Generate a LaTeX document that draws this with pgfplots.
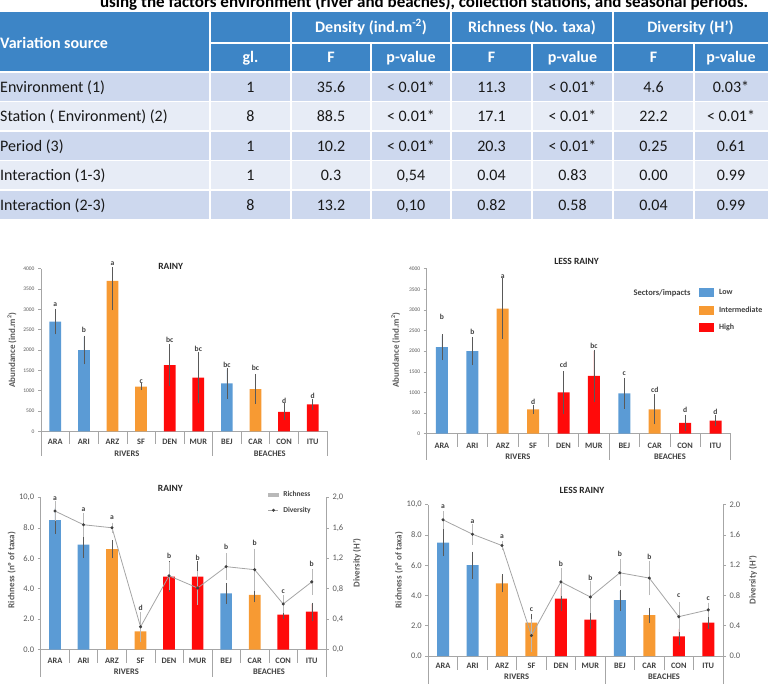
\documentclass[border=0pt]{standalone}
\usepackage{fontspec}
\setmainfont{Carlito}
\usepackage{pgfplots}
\usepackage{pgfplotstable}
\pgfplotsset{compat=1.18}
\usetikzlibrary{calc}

\definecolor{hdr}{HTML}{3D85C6}
\definecolor{rowA}{HTML}{CDD8EE}
\definecolor{rowB}{HTML}{E7ECF6}
\definecolor{cblue}{HTML}{5B9BD5}
\definecolor{corange}{HTML}{F79A33}
\definecolor{cred}{HTML}{FF0A0A}
\definecolor{axgray}{HTML}{A6A6A6}
\definecolor{tickc}{HTML}{595959}
\definecolor{catc}{HTML}{404040}
\definecolor{errc}{HTML}{595959}
\definecolor{linec}{HTML}{A5A5A5}

% ---------- top-left: rainy abundance
\pgfplotstableread{
x y ep em
0 2700 280 280
1 2000 320 320
6 1180 340 340
}\TLlow
\pgfplotstableread{
x y ep em
2 3700 300 690
3 1100 55 55
7 1040 330 330
}\TLmid
\pgfplotstableread{
x y ep em
4 1630 480 480
5 1320 600 600
8 480 170 170
9 660 100 100
}\TLhigh
\pgfplotstableread{
x y l
0 3115 a
1 2500 b
2 4123 a
3 1230 c
4 2254 bc
5 2033 bc
6 1639 bc
7 1557 bc
8 738 d
9 877 d
}\TLlet
% ---------- top-right: less rainy abundance
\pgfplotstableread{
x y ep em
0 2100 280 280
1 2000 310 310
6 980 340 340
}\TRlow
\pgfplotstableread{
x y ep em
2 3030 700 700
3 590 70 70
7 590 330 330
}\TRmid
\pgfplotstableread{
x y ep em
4 1000 480 480
5 1400 600 600
8 260 160 160
9 320 100 100
}\TRhigh
\pgfplotstableread{
x y l
0 2836 b
1 2465 b
2 3800 a
3 768 d
4 1657 cd
5 2141 bc
6 1446 c
7 1059 cd
8 566 d
9 525 d
}\TRlet
% ---------- bottom-left: rainy richness / diversity
\pgfplotstableread{
x y ep em
0 8.5 0.8 0.8
1 6.9 0.8 0.8
6 3.7 0.6 0.6
}\BLlow
\pgfplotstableread{
x y ep em
2 6.6 0.5 0.5
3 1.2 0.6 0.6
7 3.6 0.4 0.4
}\BLmid
\pgfplotstableread{
x y ep em
4 4.8 0.9 0.9
5 4.8 0.9 0.9
8 2.3 0.2 0.2
9 2.5 0.5 0.5
}\BLhigh
\pgfplotstableread{
x y e
0 1.82 0.12
1 1.64 0.14
2 1.60 0.05
3 0.30 0.18
4 0.97 0.17
5 0.81 0.20
6 1.09 0.16
7 1.05 0.26
8 0.60 0.10
9 0.89 0.15
}\BLdiv
\pgfplotstableread{
x y l
0 9.93 a
1 9.2 a
2 8.67 a
3 2.76 d
4 6.17 b
5 6.02 b
6 6.74 b
7 6.98 b
8 3.8 c
9 5.62 b
}\BLlet
% ---------- bottom-right: less rainy richness / diversity
\pgfplotstableread{
x y ep em
0 7.5 0.8 0.8
1 6.0 0.8 0.8
6 3.7 0.6 0.6
}\BRlow
\pgfplotstableread{
x y ep em
2 4.8 0.5 0.5
3 2.2 0.5 0.5
7 2.7 0.4 0.4
}\BRmid
\pgfplotstableread{
x y ep em
4 3.8 0.7 0.7
5 2.4 0.5 0.5
8 1.3 0.5 0.5
9 2.2 0.3 0.3
}\BRhigh
\pgfplotstableread{
x y e
0 1.80 0.10
1 1.61 0.12
2 1.46 0.04
3 0.27 0.20
4 0.98 0.17
5 0.78 0.20
6 1.10 0.16
7 1.03 0.21
8 0.52 0.18
9 0.61 0.08
}\BRdiv
\pgfplotstableread{
x y l
0 9.85 a
1 8.9 a
2 7.9 a
3 3.06 c
4 6.06 b
5 5.18 b
6 6.72 b
7 6.54 b
8 4.0 c
9 3.79 c
}\BRlet

\tikzset{
 tb/.style={font=\fontsize{16}{18}\selectfont, anchor=base, inner sep=0pt, text=black!90},
 th/.style={font=\bfseries\fontsize{16}{18}\selectfont, anchor=base, inner sep=0pt, text=white},
 grp/.style={font=\bfseries\fontsize{8.5}{9}\selectfont, text=catc, anchor=center, inner sep=0pt},
 ttl/.style={font=\bfseries\fontsize{9.5}{10}\selectfont, text=black!85, anchor=center, inner sep=0pt},
 ylab/.style={font=\bfseries\fontsize{9}{10}\selectfont, text=tickc, anchor=center, rotate=90, inner sep=0pt},
 sep/.style={draw=axgray, line width=0.6pt},
}

\newcommand\trow[9]{%
 \node[tb,anchor=base west] at (0,#1) {#2};
 \node[tb] at (250.5,#1) {#3};
 \node[tb] at (331,#1) {#4};
 \node[tb] at (411,#1) {#5};
 \node[tb] at (491.5,#1) {#6};
 \node[tb] at (572.5,#1) {#7};
 \node[tb] at (653.5,#1) {#8};
 \node[tb] at (731,#1) {#9};
}

\pgfplotsset{
 chart/.style={
  scale only axis, anchor=south west, clip=false,
  xmin=-0.5, xmax=9.5, ymin=0,
  axis x line*=bottom, axis y line*=left,
  axis line style={draw=axgray, line width=0.6pt, -},
  xtick={0,...,9},
  xticklabels={ARA,ARI,ARZ,SF,DEN,MUR,BEJ,CAR,CON,ITU},
  xtick style={draw=none},
  xticklabel style={font=\bfseries\fontsize{8.3}{9}\selectfont, text=catc, anchor=center},
  tick align=outside, major tick length=3pt,
  ytick style={draw=axgray, line width=0.5pt},
  yticklabel style={text=tickc},
 },
 eb/.style={error bars/y dir=both, error bars/y explicit,
  error bars/error bar style={draw=errc, line width=0.45pt},
  error bars/error mark options={draw=errc, line width=0.45pt, mark size=1.4pt}},
 bars/.style={ybar, bar shift=0pt, draw=none},
 let/.style={forget plot, draw=none, mark=none, nodes near coords, point meta=explicit symbolic,
  nodes near coords style={font=\bfseries\fontsize{7.6}{8}\selectfont, text=catc, anchor=center, inner sep=0pt}},
 divline/.style={linec, line width=0.8pt, mark=*, mark size=1.1pt,
  mark options={fill=black!75, draw=black!75, solid},
  error bars/y dir=both, error bars/y explicit,
  error bars/error bar style={draw=gray!55, line width=0.4pt},
  error bars/error mark options={draw=gray!55, line width=0.4pt, mark size=1.3pt}},
 rightax/.style={scale only axis, anchor=south west, clip=false,
  xmin=-0.5, xmax=9.5, ymin=0, ymax=2,
  axis x line=none, axis y line*=right,
  axis line style={draw=axgray, line width=0.6pt, -},
  tick align=outside, major tick length=3pt,
  ytick style={draw=axgray, line width=0.5pt},
  ytick={0,0.4,0.8,1.2,1.6,2},
  yticklabel style={font=\fontsize{8.5}{9}\selectfont, text=tickc}},
}

\begin{document}
\begin{tikzpicture}
% ================= TABLE =================
\begin{scope}[x=1pt,y=-1pt]
 \node[font=\bfseries\fontsize{17}{19}\selectfont, anchor=base, inner sep=0pt] at (424,8) {using the factors environment (river and beaches), collection stations, and seasonal periods.};
 \fill[hdr] (0,12) rectangle (768,72);
 \fill[rowA] (0,72) rectangle (768,101.5);
 \fill[rowB] (0,101.5) rectangle (768,131);
 \fill[rowA] (0,131) rectangle (768,160.5);
 \fill[rowB] (0,160.5) rectangle (768,190);
 \fill[rowA] (0,190) rectangle (768,219.5);
 \draw[white, line width=1.5pt] (210,43) -- (768,43);
 \foreach \y in {72,101.5,131,160.5,190} \draw[white, line width=1.5pt] (0,\y) -- (768,\y);
 \foreach \x in {210,291,451,613} \draw[white, line width=1.5pt] (\x,12) -- (\x,43);
 \foreach \x in {210,291,371,451,532,613,694} \draw[white, line width=1.5pt] (\x,43) -- (\x,219.5);
 \node[th,anchor=base west] at (0,48.5) {Variation source};
 \node[th] at (371,33) {Density (ind.m\textsuperscript{-2})};
 \node[th] at (532,33) {Richness (No. taxa)};
 \node[th] at (690.5,33) {Diversity (H’)};
 \node[th] at (250.5,63) {gl.};
 \node[th] at (331,63) {F};
 \node[th] at (411,63) {p-value};
 \node[th] at (491.5,63) {F};
 \node[th] at (572.5,63) {p-value};
 \node[th] at (653.5,63) {F};
 \node[th] at (731,63) {p-value};
 \trow{92.25}{Environment (1)}{1}{35.6}{< 0.01*}{11.3}{< 0.01*}{4.6}{0.03*}
 \trow{121.75}{Station ( Environment) (2)}{8}{88.5}{< 0.01*}{17.1}{< 0.01*}{22.2}{< 0.01*}
 \trow{151.25}{Period (3)}{1}{10.2}{< 0.01*}{20.3}{< 0.01*}{0.25}{0.61}
 \trow{180.75}{Interaction (1-3)}{1}{0.3}{0,54}{0.04}{0.83}{0.00}{0.99}
 \trow{210.25}{Interaction (2-3)}{8}{13.2}{0,10}{0.82}{0.58}{0.04}{0.99}
\end{scope}

% ================= TOP LEFT =================
\begin{axis}[chart, at={(41pt,-431.3pt)}, width=286pt, height=162.6pt, ymax=4000,
  ytick={0,500,1000,1500,2000,2500,3000,3500,4000},
  yticklabels={0,500,1000,1500,2000,2500,3000,3500,4000},
  yticklabel style={font=\fontsize{5.5}{6}\selectfont},
  xticklabel style={yshift=-7.7pt}]
 \addplot[bars, bar width=11.7pt, fill=cblue, eb] table[x=x,y=y,y error plus=ep,y error minus=em]{\TLlow};
 \addplot[bars, bar width=11.7pt, fill=corange, eb] table[x=x,y=y,y error plus=ep,y error minus=em]{\TLmid};
 \addplot[bars, bar width=11.7pt, fill=cred, eb] table[x=x,y=y,y error plus=ep,y error minus=em]{\TLhigh};
 \addplot[let] table[x=x,y=y,meta=l]{\TLlet};
 \pgfplotsinvokeforeach{0.5,1.5,2.5,3.5,4.5,6.5,7.5,8.5}{\draw[sep] (axis cs:#1,0) -- ++(0pt,-12.7pt);}
 \pgfplotsinvokeforeach{-0.5,5.5,9.5}{\draw[sep] (axis cs:#1,0) -- ++(0pt,-24.7pt);}
 \node[grp] at ($(axis cs:2.5,0)+(0pt,-22.7pt)$) {RIVERS};
 \node[grp] at ($(axis cs:7.5,0)+(0pt,-22.7pt)$) {BEACHES};
 \node[ttl] at (rel axis cs:0.4535,1.0148) {RAINY};
 \node[ylab] at (rel axis cs:-0.1014,0.5) {Abundance (ind.m\textsuperscript{2})};
\end{axis}

% ================= TOP RIGHT =================
\begin{axis}[chart, at={(426.7pt,-433.7pt)}, width=304pt, height=165pt, ymax=4000,
  ytick={0,500,1000,1500,2000,2500,3000,3500,4000},
  yticklabels={0,500,1000,1500,2000,2500,3000,3500,4000},
  yticklabel style={font=\fontsize{5.5}{6}\selectfont},
  xticklabel style={yshift=-9pt},
  legend style={at={(0.8957,0.8818)}, anchor=north west, draw=none, fill=none,
    inner sep=0pt, outer sep=0pt, font=\bfseries\fontsize{8}{9}\selectfont, text=catc,
    row sep=8.3pt, column sep=5pt, nodes={inner sep=0pt, text height=6pt, text depth=1.5pt}},
  legend cell align=left,
  legend image code/.code={\draw[#1,draw=none] (0pt,-4.5pt) rectangle (15pt,4.5pt);}]
 \addplot[bars, bar width=12pt, fill=cblue, eb] table[x=x,y=y,y error plus=ep,y error minus=em]{\TRlow};
 \addlegendentry{Low}
 \addplot[bars, bar width=12pt, fill=corange, eb] table[x=x,y=y,y error plus=ep,y error minus=em]{\TRmid};
 \addlegendentry{Intermediate}
 \addplot[bars, bar width=12pt, fill=cred, eb] table[x=x,y=y,y error plus=ep,y error minus=em]{\TRhigh};
 \addlegendentry{High}
 \addplot[let] table[x=x,y=y,meta=l]{\TRlet};
 \pgfplotsinvokeforeach{0.5,1.5,2.5,3.5,4.5,6.5,7.5,8.5}{\draw[sep] (axis cs:#1,0) -- ++(0pt,-13.3pt);}
 \pgfplotsinvokeforeach{-0.5,5.5,9.5}{\draw[sep] (axis cs:#1,0) -- ++(0pt,-26.3pt);}
 \node[grp] at ($(axis cs:2.5,0)+(0pt,-23pt)$) {RIVERS};
 \node[grp] at ($(axis cs:7.5,0)+(0pt,-23pt)$) {BEACHES};
 \node[ttl] at (rel axis cs:0.493,1.0467) {LESS RAINY};
 \node[ylab] at (rel axis cs:-0.102,0.507) {Abundance (ind.m\textsuperscript{2})};
 \node[font=\bfseries\fontsize{8.5}{9}\selectfont, text=catc, anchor=center] at (rel axis cs:0.774,0.8545) {Sectors/impacts};
\end{axis}

% ================= BOTTOM LEFT =================
\begin{axis}[chart, at={(40.7pt,-649.7pt)}, width=285.3pt, height=152.4pt, ymax=10,
  ytick={0,2,4,6,8,10},
  yticklabels={{0.0},{2.0},{4.0},{6.0},{8.0},{10,0}},
  yticklabel style={font=\fontsize{8.5}{9}\selectfont},
  xticklabel style={yshift=-8.3pt}]
 \addplot[bars, bar width=11.7pt, fill=cblue, eb] table[x=x,y=y,y error plus=ep,y error minus=em]{\BLlow};
 \addplot[bars, bar width=11.7pt, fill=corange, eb] table[x=x,y=y,y error plus=ep,y error minus=em]{\BLmid};
 \addplot[bars, bar width=11.7pt, fill=cred, eb] table[x=x,y=y,y error plus=ep,y error minus=em]{\BLhigh};
 \addplot[let] table[x=x,y=y,meta=l]{\BLlet};
 \pgfplotsinvokeforeach{0.5,1.5,2.5,3.5,4.5,6.5,7.5,8.5}{\draw[sep] (axis cs:#1,0) -- ++(0pt,-13pt);}
 \pgfplotsinvokeforeach{-0.5,5.5,9.5}{\draw[sep] (axis cs:#1,0) -- ++(0pt,-27pt);}
 \node[grp] at ($(axis cs:2.5,0)+(0pt,-22pt)$) {RIVERS};
 \node[grp] at ($(axis cs:7.5,0)+(0pt,-22pt)$) {BEACHES};
 \node[ttl] at (rel axis cs:0.4545,1.059) {RAINY};
 \node[ylab] at (rel axis cs:-0.1014,0.523) {Richness (nº of taxa)};
\end{axis}
\begin{axis}[rightax, at={(40.7pt,-649.7pt)}, width=285.3pt, height=152.4pt,
  yticklabels={{0,0},{0,4},{0,8},{1,2},{1,6},{2,0}},
  legend style={at={(0.797,1.04)}, anchor=north west, draw=none, fill=none,
    inner sep=0pt, outer sep=0pt, font=\bfseries\fontsize{7.5}{8}\selectfont, text=catc,
    row sep=8.5pt, column sep=4.5pt, nodes={inner sep=0pt, text height=5.5pt, text depth=1.5pt}},
  legend cell align=left]
 \addlegendimage{legend image code/.code={\fill[gray!55] (0pt,-1.8pt) rectangle (10pt,1.8pt);}}
 \addlegendentry{Richness}
 \addplot[divline, legend image code/.code={\draw[linec,line width=0.8pt] (0pt,0pt) -- (10pt,0pt); \fill[black!75] (5pt,0pt) circle (1.1pt);}] table[x=x,y=y,y error=e]{\BLdiv};
 \addlegendentry{Diversity}
 \node[ylab] at (rel axis cs:1.109,0.569) {Diversity (H’)};
\end{axis}

% ================= BOTTOM RIGHT =================
\begin{axis}[chart, at={(428.3pt,-656pt)}, width=294.7pt, height=151.3pt, ymax=10,
  ytick={0,2,4,6,8,10},
  yticklabels={{0.0},{2.0},{4.0},{6.0},{8.0},{10,0}},
  yticklabel style={font=\fontsize{8.5}{9}\selectfont},
  xticklabel style={yshift=-7.3pt}]
 \addplot[bars, bar width=12pt, fill=cblue, eb] table[x=x,y=y,y error plus=ep,y error minus=em]{\BRlow};
 \addplot[bars, bar width=12pt, fill=corange, eb] table[x=x,y=y,y error plus=ep,y error minus=em]{\BRmid};
 \addplot[bars, bar width=12pt, fill=cred, eb] table[x=x,y=y,y error plus=ep,y error minus=em]{\BRhigh};
 \addplot[let] table[x=x,y=y,meta=l]{\BRlet};
 \pgfplotsinvokeforeach{0.5,1.5,2.5,3.5,4.5,6.5,7.5,8.5}{\draw[sep] (axis cs:#1,0) -- ++(0pt,-14pt);}
 \pgfplotsinvokeforeach{-0.5,5.5,9.5}{\draw[sep] (axis cs:#1,0) -- ++(0pt,-30pt);}
 \node[grp] at ($(axis cs:2.5,0)+(0pt,-20.7pt)$) {RIVERS};
 \node[grp] at ($(axis cs:7.5,0)+(0pt,-20.7pt)$) {BEACHES};
 \node[ttl] at (rel axis cs:0.5215,1.097) {LESS RAINY};
 \node[ylab] at (rel axis cs:-0.0994,0.568) {Richness (nº of taxa)};
\end{axis}
\begin{axis}[rightax, at={(428.3pt,-656pt)}, width=294.7pt, height=151.3pt,
  yticklabels={{0.0},{0.4},{0.8},{1.2},{1.6},{2.0}}]
 \addplot[divline] table[x=x,y=y,y error=e]{\BRdiv};
 \node[ylab] at (rel axis cs:1.102,0.502) {Diversity (H’)};
\end{axis}

\pgfresetboundingbox
\path[use as bounding box] (0pt,0pt) rectangle (768pt,-684pt);
\end{tikzpicture}
\end{document}
